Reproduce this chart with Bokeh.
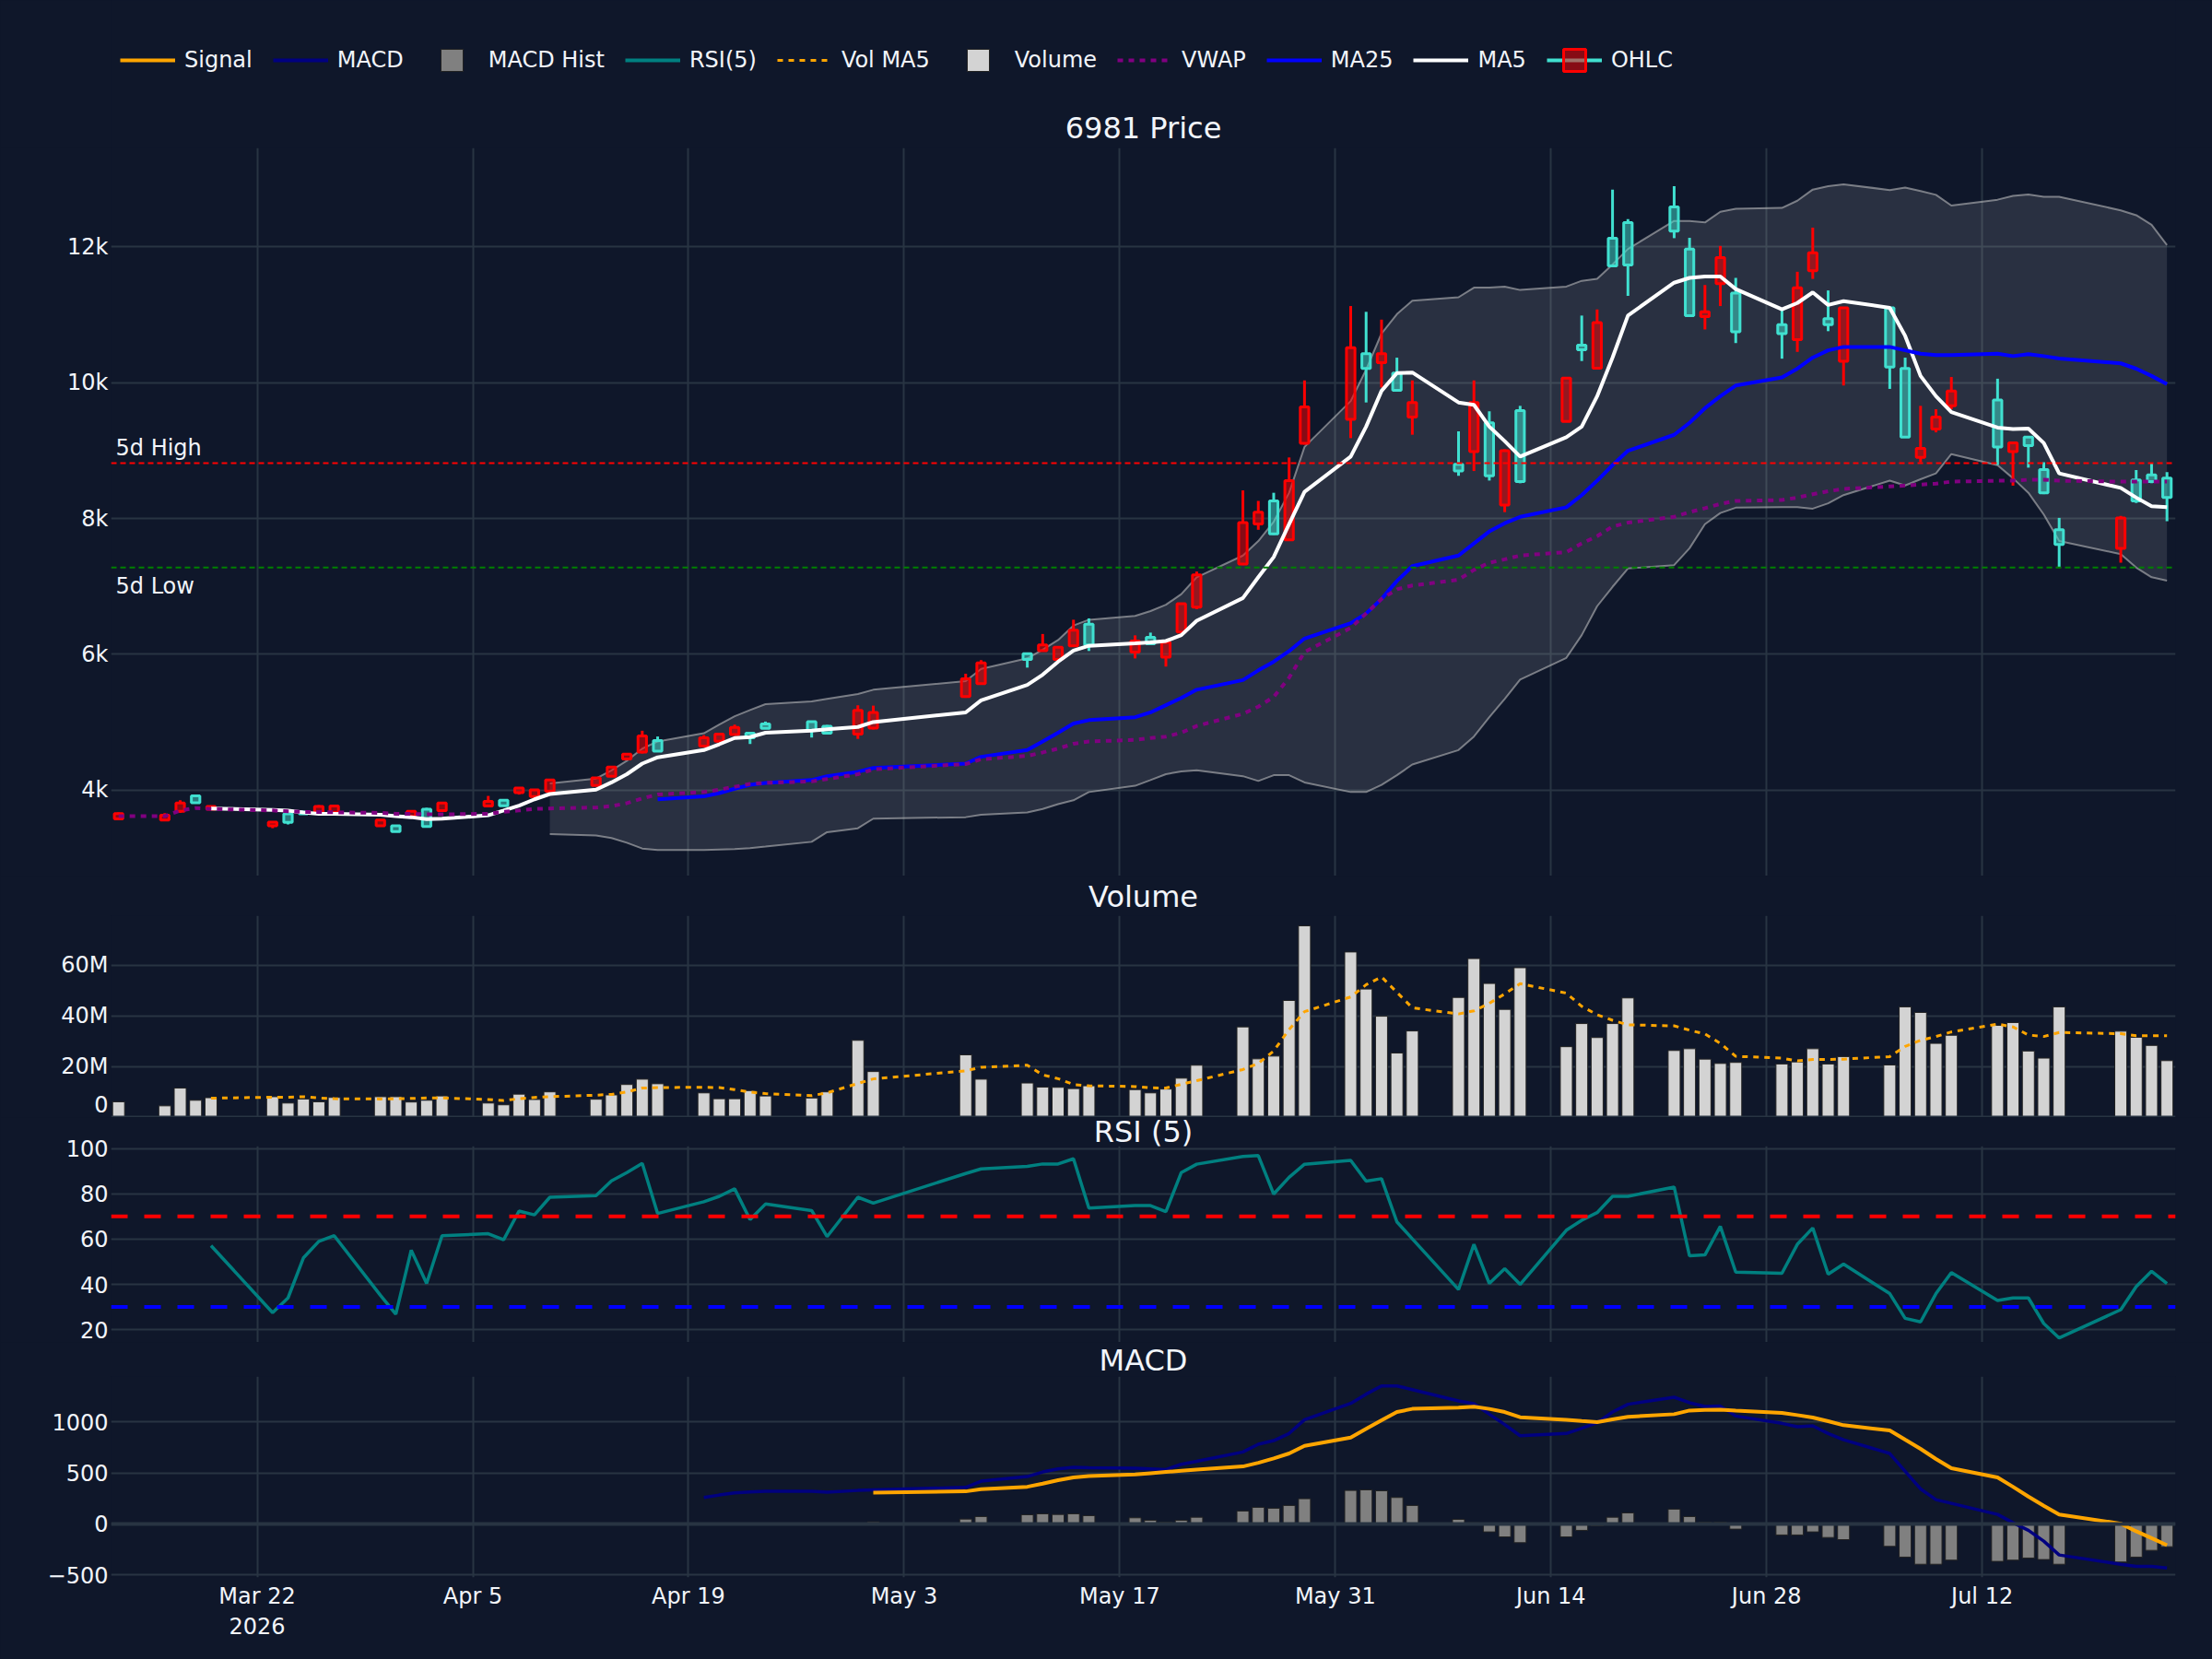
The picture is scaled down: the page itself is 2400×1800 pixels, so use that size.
import pandas as pd
from bokeh.plotting import figure
from bokeh.layouts import column
from bokeh.models import (Range1d, FixedTicker, CustomJSTickFormatter, Span, Label, Title,
                          Legend, LegendItem, ColumnDataSource)
from bokeh.embed import file_html
from bokeh.resources import INLINE

# ---------------- data ----------------
dates = [
    "2026-03-13", "2026-03-16", "2026-03-17", "2026-03-18", "2026-03-19",
    "2026-03-23", "2026-03-24", "2026-03-25", "2026-03-26", "2026-03-27",
    "2026-03-30", "2026-03-31", "2026-04-01", "2026-04-02", "2026-04-03",
    "2026-04-06", "2026-04-07", "2026-04-08", "2026-04-09", "2026-04-10",
    "2026-04-13", "2026-04-14", "2026-04-15", "2026-04-16", "2026-04-17",
    "2026-04-20", "2026-04-21", "2026-04-22", "2026-04-23", "2026-04-24",
    "2026-04-27", "2026-04-28", "2026-04-30", "2026-05-01",
    "2026-05-07", "2026-05-08",
    "2026-05-11", "2026-05-12", "2026-05-13", "2026-05-14", "2026-05-15",
    "2026-05-18", "2026-05-19", "2026-05-20", "2026-05-21", "2026-05-22",
    "2026-05-25", "2026-05-26", "2026-05-27", "2026-05-28", "2026-05-29",
    "2026-06-01", "2026-06-02", "2026-06-03", "2026-06-04", "2026-06-05",
    "2026-06-08", "2026-06-09", "2026-06-10", "2026-06-11", "2026-06-12",
    "2026-06-15", "2026-06-16", "2026-06-17", "2026-06-18", "2026-06-19",
    "2026-06-22", "2026-06-23", "2026-06-24", "2026-06-25", "2026-06-26",
    "2026-06-29", "2026-06-30", "2026-07-01", "2026-07-02", "2026-07-03",
    "2026-07-06", "2026-07-07", "2026-07-08", "2026-07-09", "2026-07-10",
    "2026-07-13", "2026-07-14", "2026-07-15", "2026-07-16", "2026-07-17",
    "2026-07-21", "2026-07-22", "2026-07-23", "2026-07-24",
]

opens = [3655, 3630, 3810, 3815, 3760, 3530, 3525, 3650, 3760, 3765,
         3560, 3390, 3690, 3465, 3810, 3835, 3770, 4030, 4005, 4150,
         4180, 4340, 4530, 4800, 4575, 4770, 4825, 4925, 4770, 4910,
         4880, 4840, 5175, 5145, 5640, 5875, 5925, 6140, 6105, 6355,
         6140, 6195, 6155, 6175, 6745, 7170, 7940, 8095, 7775, 8560,
         9645, 10515, 10210, 10430, 9890, 9710, 8700, 9710, 8630, 9000,
         8545, 10070, 10485, 10885, 11720, 11735, 12235, 10990, 11045, 11845,
         10750, 10725, 11400, 11915, 10855, 11105, 10230, 9200, 9035, 9495,
         9880, 9055, 9115, 9075, 8380, 7620, 8010, 8260, 8545, 8310]
highs = [3670, 3660, 3850, 3922, 3770, 3535, 3680, 3690, 3780, 3775,
         3565, 3480, 3700, 3740, 3815, 3915, 3865, 4040, 4010, 4155,
         4185, 4345, 4535, 4875, 4790, 4810, 4840, 4965, 4845, 5010,
         5015, 4960, 5250, 5245, 5715, 5915, 6015, 6300, 6110, 6510,
         6530, 6280, 6320, 6180, 6760, 7220, 8415, 8260, 8380, 8900,
         10035, 11130, 11045, 10930, 10370, 10035, 9285, 10035, 9580, 9020,
         9660, 10075, 10990, 11080, 12845, 12410, 12895, 12135, 11440, 12015,
         11545, 11080, 11635, 12285, 11360, 11105, 11120, 10370, 9660, 9610,
         10085, 10060, 9115, 9200, 8830, 8010, 8040, 8715, 8815, 8685]
lows = [3565, 3555, 3665, 3810, 3710, 3440, 3495, 3640, 3660, 3660,
        3470, 3385, 3610, 3450, 3695, 3760, 3765, 3935, 3900, 3980,
        4060, 4200, 4455, 4540, 4570, 4645, 4715, 4815, 4680, 4905,
        4775, 4830, 4755, 4895, 5360, 5565, 5805, 6050, 5920, 6120,
        6050, 5940, 6150, 5820, 6325, 6665, 7315, 7835, 7760, 7670,
        9090, 9185, 9710, 9930, 9875, 9235, 8630, 8700, 8560, 8095,
        8520, 9420, 10320, 10210, 11715, 11280, 12130, 10985, 10785, 11130,
        10585, 10355, 10455, 11530, 10760, 9960, 9910, 9200, 8830, 9270,
        9610, 8790, 8485, 8750, 8360, 7278, 7350, 8230, 8520, 7960]
closes = [3575, 3560, 3690, 3915, 3720, 3475, 3650, 3680, 3665, 3670,
          3475, 3475, 3615, 3720, 3700, 3765, 3850, 3965, 3905, 3985,
          4070, 4205, 4460, 4560, 4730, 4650, 4720, 4820, 4840, 4975,
          5010, 4940, 4825, 4915, 5380, 5570, 6010, 6055, 5925, 6125,
          6445, 6035, 6250, 5960, 6330, 6695, 7330, 7920, 8260, 7685,
          9110, 9460, 10430, 10295, 10145, 9495, 8800, 8985, 9410, 8200,
          9590, 9430, 10555, 10215, 12130, 12360, 12590, 11970, 10975, 11460,
          11320, 10855, 10635, 11650, 10945, 10315, 11105, 10210, 8900, 9320,
          9660, 9745, 8985, 9200, 8720, 7835, 7560, 8570, 8645, 8595]

# volume, millions of shares
volume_m = [6.2, 4.6, 11.6, 6.8, 7.8, 8.2, 5.7, 7.3, 6.2, 7.9,
            8.2, 8.2, 6.1, 6.8, 8.5, 5.7, 5.0, 9.2, 7.1, 10.1,
            7.2, 8.9, 13.0, 15.1, 13.3, 9.7, 7.4, 7.4, 10.6, 8.5,
            7.7, 10.1, 30.4, 18.1, 24.7, 15.1, 13.6, 12.0, 11.9, 11.4,
            12.5, 11.0, 9.7, 11.2, 15.5, 20.6, 35.7, 23.1, 24.2, 46.1,
            75.5, 65.2, 50.6, 39.9, 25.4, 34.1, 47.3, 62.6, 52.8, 42.6,
            59.0, 27.9, 37.0, 31.5, 37.0, 47.1, 26.4, 27.1, 23.0, 21.3,
            21.7, 21.1, 21.9, 27.1, 21.1, 24.0, 20.7, 43.6, 41.4, 29.2,
            32.4, 36.3, 37.4, 26.2, 23.4, 43.6, 34.0, 31.6, 28.4, 22.4]

vol_ma5 = [7.6, 8.0, 8.0, 8.2, 7.7, 7.4, 7.3, 7.4, 7.5, 7.7,
           7.7, 7.1, 6.7, 7.4, 7.9, 8.2, 8.8, 9.1, 10.1, 11.6,
           11.8, 11.9, 11.8, 11.0, 10.0, 9.4, 8.6, 9.7, 13.4, 15.2,
           18.4, 19.8, 20.6, 16.8, 15.3, 13.0, 12.5, 12.2, 11.7, 11.6,
           13.1, 14.5, 18.9, 21.3, 26.2, 34.7, 41.7, 47.5, 52.3, 55.4,
           49.3, 43.2, 40.8, 42.0, 45.0, 48.7, 52.7, 49.0, 43.8, 40.5,
           38.3, 36.5, 36.1, 34.4, 32.9, 29.2, 24.1, 23.4, 22.3, 22.9,
           22.9, 23.0, 24.0, 28.0, 30.4, 31.9, 33.7, 36.8, 35.7, 32.5,
           31.9, 33.5, 33.0, 32.2, 32.2, 32.2]

ma5 = [3730, 3708, 3700, 3673, 3652, 3652, 3637, 3616, 3602, 3573,
       3580, 3630, 3700, 3772, 3865, 3943, 4007, 4114, 4235, 4391,
       4484, 4590, 4676, 4768, 4782, 4846, 4875, 4896, 4931, 5003,
       5145, 5323, 5550, 5700, 5892, 6055, 6126, 6162, 6176, 6197,
       6283, 6496, 6830, 7136, 7434, 7918, 8394, 8913, 9354, 9880,
       10144, 10151, 9710, 9675, 9354, 9141, 8913, 9198, 9354, 9802,
       10371, 10990, 11474, 11545, 11566, 11566, 11381, 11082, 11175, 11331,
       11146, 11203, 11104, 10691, 10101, 9802, 9568, 9340, 9319, 9326,
       9113, 8665, 8451, 8309, 8181, 8167]

ma25 = [3865, 3908, 3957, 4021, 4078, 4107, 4149, 4206, 4270, 4327,
        4391, 4491, 4590, 4718, 4846, 4981, 5031, 5074, 5145, 5252,
        5358, 5479, 5621, 5764, 5892, 6048, 6233, 6460, 6602, 6816,
        7080, 7299, 7456, 7634, 7811, 7932, 8025, 8167, 8345, 8558,
        8786, 8999, 9234, 9411, 9625, 9802, 9959, 10080, 10208, 10371,
        10478, 10528, 10528, 10478, 10428, 10407, 10407, 10428, 10393, 10421,
        10393, 10357, 10286, 10208, 10101, 9980]

vwap = [3616, 3616, 3701, 3737, 3723, 3701, 3687, 3680, 3680, 3673,
        3666, 3652, 3652, 3644, 3644, 3652, 3680, 3701, 3723, 3730,
        3744, 3765, 3808, 3879, 3936, 3972, 4007, 4050, 4092, 4107,
        4128, 4164, 4235, 4306, 4384, 4455, 4505, 4555, 4612, 4683,
        4718, 4740, 4768, 4789, 4846, 4946, 5124, 5230, 5372, 5657,
        6034, 6389, 6602, 6816, 6958, 7015, 7100, 7243, 7349, 7399,
        7456, 7506, 7634, 7740, 7883, 7940, 8025, 8096, 8153, 8217,
        8259, 8274, 8309, 8359, 8402, 8437, 8473, 8487, 8501, 8515,
        8544, 8558, 8558, 8572, 8572, 8558, 8544, 8544, 8544, 8544]

bb_upper = [4100, 4171, 4292, 4434, 4612, 4718, 4839, 4967, 5088, 5180,
            5266, 5308, 5344, 5415, 5479, 5607, 5785, 5941, 6069, 6211,
            6425, 6510, 6567, 6638, 6731, 6887, 7136, 7456, 7669, 7954,
            8380, 9056, 9731, 10194, 10727, 11011, 11210, 11260, 11402, 11402,
            11417, 11367, 11417, 11502, 11530, 11743, 11971, 12384, 12384, 12362,
            12519, 12562, 12576, 12682, 12846, 12896, 12924, 12839, 12874, 12825,
            12768, 12611, 12697, 12754, 12775, 12740, 12740, 12540, 12469, 12327,
            12028]
bb_lower = [3353, 3332, 3296, 3225, 3140, 3118, 3118, 3125, 3132, 3147,
            3168, 3239, 3381, 3438, 3580, 3602, 3637, 3673, 3723, 3794,
            3851, 3972, 4064, 4149, 4235, 4277, 4292, 4206, 4135, 4220,
            4220, 4114, 3972, 3972, 4078, 4220, 4377, 4590, 4789, 5074,
            5344, 5628, 5948, 6283, 6709, 6994, 7264, 7314, 7563, 7918,
            8082, 8160, 8167, 8167, 8146, 8224, 8345, 8558, 8487, 8579,
            8665, 8949, 8786, 8594, 8380, 8060, 7669, 7477, 7278, 7136,
            7086]

rsi5 = [57.1, 27.5, 34.0, 51.7, 59.0, 61.5, 35.2, 26.8, 55.1, 40.4,
        61.5, 62.4, 59.7, 72.4, 70.7, 78.5, 79.2, 85.7, 89.4, 93.5,
        71.3, 76.5, 78.9, 82.2, 68.6, 75.5, 72.6, 61.1, 78.5, 75.9,
        89.0, 91.0, 92.1, 93.2, 93.2, 95.5, 73.7, 74.8, 74.8, 72.1,
        89.4, 93.1, 96.5, 96.9, 79.9, 87.3, 93.1, 94.8, 85.6, 86.7,
        67.6, 60.1, 37.7, 57.7, 40.4, 46.9, 40.0, 63.9, 68.3, 71.7,
        78.9, 78.9, 83.0, 52.6, 53.0, 65.6, 45.4, 44.9, 57.7, 64.9,
        44.5, 49.0, 35.9, 25.0, 23.4, 35.9, 45.2, 32.9, 34.0, 34.0,
        22.7, 16.3, 28.8, 39.0, 45.8, 40.4]

macd = [259, 283, 304, 313, 319, 319, 310, 328, 334, 358,
        419, 464, 509, 539, 554, 551, 545, 539, 533, 584,
        614, 705, 780, 816, 886, 1021, 1181, 1271, 1352, 1352,
        1316, 1205, 1178, 1075, 973, 864, 886, 937, 991, 1096,
        1172, 1241, 1187, 1151, 1154, 1057, 985, 952, 961, 886,
        825, 690, 515, 343, 238, 202, 93, 12, -63, -169,
        -304, -395, -416, -416, -431]

signal = [307, 319, 340, 364, 395, 428, 455, 470, 485, 497,
          509, 521, 533, 563, 599, 642, 690, 765, 846, 931,
          1015, 1096, 1127, 1139, 1148, 1127, 1096, 1045, 1020, 1008,
          997, 1025, 1049, 1075, 1111, 1117, 1120, 1111, 1087, 1066,
          1042, 1006, 967, 916, 825, 735, 636, 545, 455, 364,
          268, 178, 93, 3, -72, -139, -208]

macd_hist = [20, 48, 72, 90, 99, 93, 99, 81, 60, 36,
             18, 36, 66, 127, 163, 154, 181, 247, 328, 334,
             325, 259, 181, 45, 12, -78, -127, -184, -127, -63,
             -18, 66, 108, 145, 72, 18, 18, -51, -108, -108,
             -78, -133, -154, -220, -325, -395, -395, -355, -367, -355,
             -334, -349, -395, -373, -325, -259, -223]

tick_dates = ["2026-03-22", "2026-04-05", "2026-04-19", "2026-05-03", "2026-05-17",
              "2026-05-31", "2026-06-14", "2026-06-28", "2026-07-12"]
tick_labels = ["Mar 22\n2026", "Apr 5", "Apr 19", "May 3", "May 17",
               "May 31", "Jun 14", "Jun 28", "Jul 12"]

price_ticks = [4000, 6000, 8000, 10000, 12000]
volume_ticks = [0, 20, 40, 60]
rsi_ticks = [20, 40, 60, 80, 100]
macd_ticks = [-500, 0, 500, 1000]

# ---------------- styling ----------------
BG = "#0f172a"
FG = "#f2f5fa"
GRID = "#283442"
FONT = "DejaVu Sans"
INC = "#40E0D0"
DEC = "#FF0000"
DAY = 86400000.0
FRAME_W = 2240
NAN = float("nan")

x = pd.to_datetime(dates)
tick_ms = [pd.Timestamp(d).value / 1e6 for d in tick_dates]


def tail_x(vals):
    return x[len(x) - len(vals):]


x_range = Range1d(start=pd.Timestamp("2026-03-12 12:15"), end=pd.Timestamp("2026-07-24 13:25"))

x_fmt = CustomJSTickFormatter(args=dict(tick_vals=tick_ms, tick_text=tick_labels), code="""
    const i = tick_vals.indexOf(tick);
    return i >= 0 ? tick_text[i] : "";
""")


def make_panel(frame_h, border_top, border_bottom, y_range, y_ticks, y_code, show_x):
    p = figure(frame_width=FRAME_W, frame_height=frame_h, x_axis_type="datetime",
               x_range=x_range, y_range=y_range, output_backend="svg", toolbar_location=None,
               min_border_left=120, min_border_right=40, min_border_top=border_top,
               min_border_bottom=border_bottom, background_fill_color=BG,
               border_fill_color=BG, outline_line_color=None,
               x_axis_location="below" if show_x else None)
    p.xgrid.ticker = FixedTicker(ticks=tick_ms)
    p.xgrid.grid_line_color = GRID
    p.xgrid.grid_line_width = 2
    p.ygrid.grid_line_color = GRID
    p.ygrid.grid_line_width = 2
    p.yaxis.ticker = FixedTicker(ticks=y_ticks)
    p.yaxis.formatter = CustomJSTickFormatter(code=y_code)
    axes = list(p.yaxis) + (list(p.xaxis) if show_x else [])
    for ax in axes:
        ax.axis_line_color = None
        ax.major_tick_line_color = None
        ax.minor_tick_line_color = None
        ax.major_tick_out = 0
        ax.major_tick_in = 0
        ax.major_label_text_font = FONT
        ax.major_label_text_font_size = "24px"
        ax.major_label_text_color = FG
    p.yaxis.major_label_standoff = 3
    if show_x:
        p.xaxis.ticker = FixedTicker(ticks=tick_ms)
        p.xaxis.formatter = x_fmt
        p.xaxis.major_label_standoff = 6
    return p


def panel_title(p, text, v_align, standoff):
    p.add_layout(Title(text=text, align="center", vertical_align=v_align, standoff=standoff,
                       text_font=FONT, text_font_size="32px", text_font_style="normal",
                       text_color=FG), "above")


# ---------------- header strip: legend and price title ----------------
head = figure(frame_width=FRAME_W, frame_height=160, x_range=Range1d(0, 1), y_range=Range1d(0, 1),
              output_backend="svg", toolbar_location=None, min_border_left=120,
              min_border_right=40, min_border_top=0, min_border_bottom=0,
              background_fill_color=BG, border_fill_color=BG, outline_line_color=None,
              x_axis_location=None, y_axis_location=None)
head.grid.visible = False
head.add_layout(Label(x=FRAME_W / 2, y=22, x_units="screen", y_units="screen", text="6981 Price",
                      text_align="center", text_baseline="middle", text_font=FONT,
                      text_font_size="32px", text_color=FG))

# legend swatches styled like the traces they name
lg_signal = head.line([NAN], [NAN], line_color="orange", line_width=4)
lg_macd = head.line([NAN], [NAN], line_color="navy", line_width=4)
lg_hist = head.scatter([NAN], [NAN], marker="square", fill_color="gray", line_color="#222222",
                       line_width=1)
lg_rsi = head.line([NAN], [NAN], line_color="teal", line_width=4)
lg_volma = head.line([NAN], [NAN], line_color="orange", line_width=3, line_dash="6 6")
lg_vol = head.scatter([NAN], [NAN], marker="square", fill_color="lightgray", line_color="#222222",
                      line_width=1)
lg_vwap = head.line([NAN], [NAN], line_color="purple", line_width=4, line_dash="6 6")
lg_ma25 = head.line([NAN], [NAN], line_color="blue", line_width=4)
lg_ma5 = head.line([NAN], [NAN], line_color="white", line_width=4)
lg_ohlc_w = head.line([NAN], [NAN], line_color=INC, line_width=4)
lg_ohlc_b = head.scatter([NAN], [NAN], marker="square", fill_color=DEC, fill_alpha=0.5,
                         line_color=DEC, line_width=3)

legend = Legend(items=[
    LegendItem(label="Signal", renderers=[lg_signal]),
    LegendItem(label="MACD", renderers=[lg_macd]),
    LegendItem(label="MACD Hist", renderers=[lg_hist]),
    LegendItem(label="RSI(5)", renderers=[lg_rsi]),
    LegendItem(label="Vol MA5", renderers=[lg_volma]),
    LegendItem(label="Volume", renderers=[lg_vol]),
    LegendItem(label="VWAP", renderers=[lg_vwap]),
    LegendItem(label="MA25", renderers=[lg_ma25]),
    LegendItem(label="MA5", renderers=[lg_ma5]),
    LegendItem(label="OHLC", renderers=[lg_ohlc_w, lg_ohlc_b]),
], orientation="horizontal", location="top_left", glyph_width=60, glyph_height=110,
    label_standoff=10, spacing=22, padding=10, margin=0, label_height=24,
    label_text_font=FONT, label_text_font_size="24px", label_text_color=FG,
    background_fill_alpha=0, border_line_alpha=0)
head.add_layout(legend)

# ---------------- price panel ----------------
p1 = make_panel(790, 0, 0, Range1d(2735, 13459), price_ticks,
                "return (tick / 1000) + 'k';", False)

bb_x = tail_x(bb_upper)
p1.varea(x=bb_x, y1=bb_lower, y2=bb_upper, fill_color="white", fill_alpha=0.11)
p1.line(bb_x, bb_upper, line_color="#c8c8c8", line_alpha=0.55, line_width=2)
p1.line(bb_x, bb_lower, line_color="#c8c8c8", line_alpha=0.55, line_width=2)

candles = {True: dict(x=[], top=[], bottom=[], high=[], low=[]),
           False: dict(x=[], top=[], bottom=[], high=[], low=[])}
for d, o, h, l, c in zip(x, opens, highs, lows, closes):
    grp = candles[c >= o]
    grp["x"].append(d)
    grp["top"].append(max(o, c))
    grp["bottom"].append(min(o, c))
    grp["high"].append(h)
    grp["low"].append(l)

for up, color in ((True, INC), (False, DEC)):
    src = ColumnDataSource(candles[up])
    p1.segment(x0="x", y0="top", x1="x", y1="high", source=src, line_color=color, line_width=3)
    p1.segment(x0="x", y0="low", x1="x", y1="bottom", source=src, line_color=color, line_width=3)
    p1.vbar(x="x", top="top", bottom="bottom", width=0.55 * DAY, source=src,
            fill_color=color, fill_alpha=0.5, line_color=color, line_width=3)

p1.line(tail_x(ma5), ma5, line_color="white", line_width=4)
p1.line(tail_x(ma25), ma25, line_color="blue", line_width=4)
p1.line(tail_x(vwap), vwap, line_color="purple", line_width=4, line_dash="6 6")

high5 = max(highs[-5:])
low5 = min(lows[-5:])
p1.add_layout(Span(location=high5, dimension="width", line_color="red", line_width=2,
                   line_dash="6 4"))
p1.add_layout(Span(location=low5, dimension="width", line_color="green", line_width=2,
                   line_dash="6 4"))
p1.add_layout(Label(x=5, x_units="screen", y=high5, text="5d High", text_baseline="alphabetic",
                    y_offset=17, text_font=FONT, text_font_size="24px", text_color=FG))
p1.add_layout(Label(x=5, x_units="screen", y=low5, text="5d Low", text_baseline="alphabetic",
                    y_offset=-20, text_font=FONT, text_font_size="24px", text_color=FG))

# ---------------- volume panel ----------------
p2 = make_panel(219, 43, 0, Range1d(0, 79.5), volume_ticks,
                "return tick == 0 ? '0' : tick + 'M';", False)
panel_title(p2, "Volume", "bottom", 3)
p2.add_layout(Span(location=0, dimension="width", line_color=GRID, line_width=4))
p2.vbar(x=x, top=volume_m, width=0.78 * DAY, fill_color="lightgray", line_color="#222222",
        line_width=1)
p2.line(tail_x(vol_ma5), vol_ma5, line_color="orange", line_width=3, line_dash="6 6")

# ---------------- RSI panel ----------------
p3 = make_panel(213, 31, 0, Range1d(14.35, 101.1), rsi_ticks, "return tick.toString();", False)
panel_title(p3, "RSI (5)", "top", -10)
p3.line(tail_x(rsi5), rsi5, line_color="teal", line_width=3.5)
p3.add_layout(Span(location=70, dimension="width", line_color="red", line_width=4,
                   line_dash="18 18"))
p3.add_layout(Span(location=30, dimension="width", line_color="blue", line_width=4,
                   line_dash="18 18"))

# ---------------- MACD panel ----------------
p4 = make_panel(218, 37, 89, Range1d(-524, 1444), macd_ticks,
                "return tick < 0 ? '\\u2212' + Math.abs(tick) : tick.toString();", True)
panel_title(p4, "MACD", "bottom", -3)
p4.add_layout(Span(location=0, dimension="width", line_color=GRID, line_width=4))
p4.vbar(x=tail_x(macd_hist), top=macd_hist, bottom=0, width=0.78 * DAY, fill_color="gray",
        line_color="#222222", line_width=1)
p4.line(tail_x(macd), macd, line_color="navy", line_width=3.5)
p4.line(tail_x(signal), signal, line_color="orange", line_width=4)

layout = column(head, p1, p2, p3, p4, spacing=0, background=BG)
open("out.html", "w").write(file_html(layout, INLINE))
